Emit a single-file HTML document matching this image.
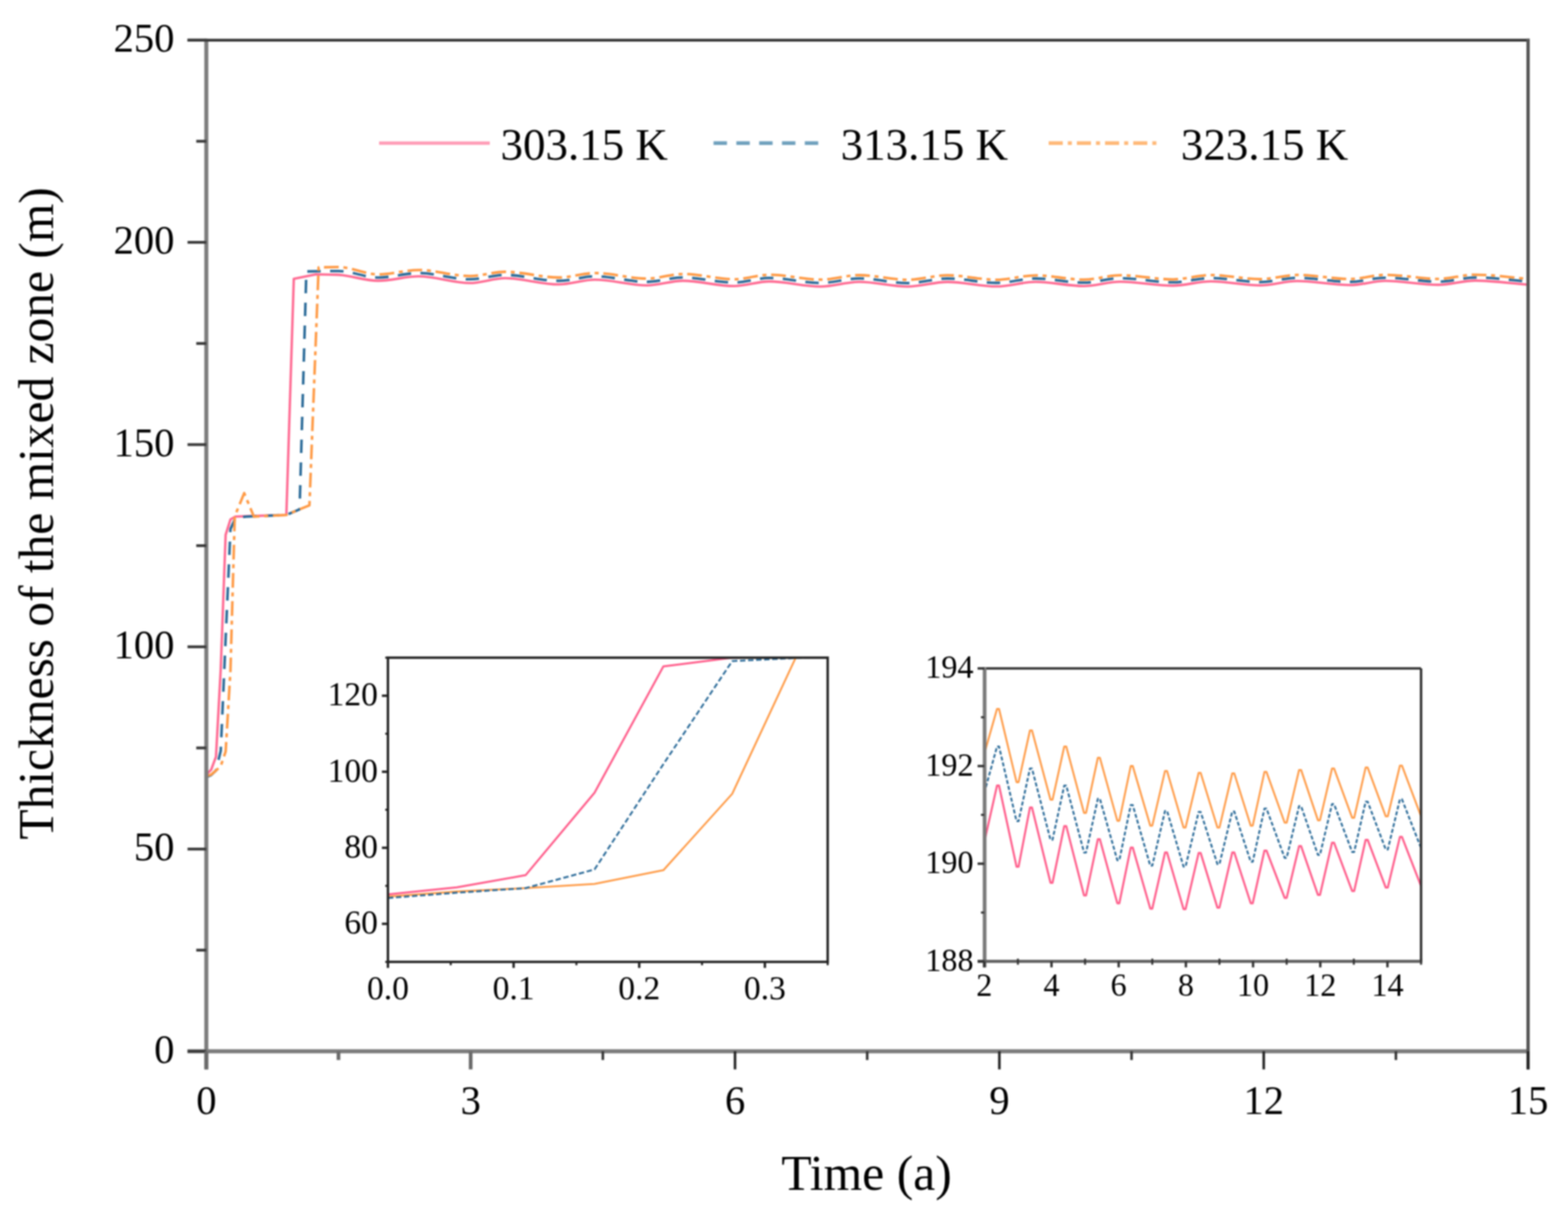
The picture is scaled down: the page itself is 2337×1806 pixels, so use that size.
<!DOCTYPE html>
<html><head><meta charset="utf-8"><title>Thickness of the mixed zone</title>
<style>
html,body{margin:0;padding:0;background:#fff;}
body{width:2337px;height:1806px;overflow:hidden;}
svg{display:block;filter:blur(1px);}
text{fill:#000;}
</style></head><body>

<svg width="2337" height="1806" viewBox="0 0 2337 1806">
<rect width="2337" height="1806" fill="#ffffff"/>
<defs>
<clipPath id="cm"><rect x="307.5" y="59.8" width="1970.0" height="1506.7"/></clipPath>
<clipPath id="ca"><rect x="578.2" y="980.0" width="655.3999999999999" height="453.29999999999995"/></clipPath>
<clipPath id="cb"><rect x="1467.0" y="996.0" width="651.0" height="436.5"/></clipPath>
</defs>
<g clip-path="url(#cm)" fill="none" stroke-linejoin="round" stroke-linecap="butt">
<path d="M307.5,1154.3 L314.7,1147.0 L321.9,1127.7 L329.0,997.0 L336.3,796.9 L343.5,774.0 L350.8,769.8 L386.3,768.6 L426.8,767.3 L437.9,415.4 L471.0,408.8 L471.0,408.8 C481.3,409.0 491.6,409.0 501.9,409.4 C522.4,410.0 543.0,418.4 563.6,418.4 C583.7,418.4 603.9,411.8 624.0,411.8 C649.4,411.8 674.8,421.8 700.2,421.8 C717.7,421.8 735.2,414.5 752.7,414.5 C779.4,414.5 806.1,423.8 832.8,423.8 C850.8,423.8 868.7,416.8 886.7,416.8 C912.5,416.8 938.3,425.3 964.2,425.3 C982.1,425.3 1000.1,418.4 1018.0,418.4 C1043.4,418.4 1068.8,426.3 1094.2,426.3 C1111.7,426.3 1129.2,419.4 1146.7,419.4 C1172.1,419.4 1197.5,427.0 1222.9,427.0 C1242.2,427.0 1261.4,420.0 1280.7,420.0 C1304.8,420.0 1328.8,427.0 1352.9,427.0 C1372.6,427.0 1392.3,420.1 1412.0,420.1 C1436.5,420.1 1461.0,426.8 1485.6,426.8 C1504.8,426.8 1524.1,420.0 1543.3,420.0 C1567.4,420.0 1591.5,426.3 1615.6,426.3 C1633.5,426.3 1651.5,419.8 1669.4,419.8 C1695.7,419.8 1722.0,425.6 1748.2,425.6 C1767.1,425.6 1785.9,419.2 1804.7,419.2 C1829.2,419.2 1853.7,425.3 1878.2,425.3 C1896.6,425.3 1915.0,418.8 1933.4,418.8 C1959.7,418.8 1985.9,424.8 2012.2,424.8 C2029.7,424.8 2047.2,418.5 2064.7,418.5 C2091.0,418.5 2117.3,424.4 2143.5,424.4 C2161.9,424.4 2180.3,418.1 2198.7,418.1 C2225.0,418.1 2251.2,422.2 2277.5,424.2" stroke="#ff6a92" stroke-width="3.6"/>
<path d="M307.5,1157.9 L314.7,1154.9 L321.9,1148.2 L329.0,1118.7 L336.3,951.8 L343.5,788.4 L350.8,772.2 L366.6,769.8 L426.8,767.3 L446.5,758.9 L456.6,404.5 L456.6,404.5 C472.5,404.3 488.5,403.9 504.5,403.9 C524.2,403.9 543.9,413.6 563.6,413.6 C583.7,413.6 603.9,406.9 624.0,406.9 C649.4,406.9 674.8,416.2 700.2,416.2 C717.7,416.2 735.2,409.7 752.7,409.7 C779.4,409.7 806.1,418.5 832.8,418.5 C850.8,418.5 868.7,411.8 886.7,411.8 C912.5,411.8 938.3,420.0 964.2,420.0 C982.1,420.0 1000.1,413.4 1018.0,413.4 C1043.4,413.4 1068.8,421.0 1094.2,421.0 C1111.7,421.0 1129.2,414.2 1146.7,414.2 C1172.1,414.2 1197.5,421.6 1222.9,421.6 C1242.2,421.6 1261.4,414.9 1280.7,414.9 C1304.8,414.9 1328.8,421.8 1352.9,421.8 C1372.6,421.8 1392.3,415.0 1412.0,415.0 C1436.5,415.0 1461.0,421.5 1485.6,421.5 C1504.8,421.5 1524.1,415.0 1543.3,415.0 C1567.4,415.0 1591.5,421.2 1615.6,421.2 C1633.5,421.2 1651.5,414.6 1669.4,414.6 C1695.7,414.6 1722.0,420.7 1748.2,420.7 C1767.1,420.7 1785.9,414.3 1804.7,414.3 C1829.2,414.3 1853.7,420.3 1878.2,420.3 C1896.6,420.3 1915.0,414.1 1933.4,414.1 C1959.7,414.1 1985.9,420.0 2012.2,420.0 C2029.7,420.0 2047.2,413.8 2064.7,413.8 C2091.0,413.8 2117.3,419.7 2143.5,419.7 C2161.9,419.7 2180.3,413.5 2198.7,413.5 C2225.0,413.5 2251.2,417.5 2277.5,419.5" stroke="#2a6a98" stroke-width="3.8" stroke-dasharray="20 14"/>
<path d="M307.5,1156.7 L314.7,1154.3 L321.9,1148.2 L329.0,1141.6 L336.3,1119.9 L343.5,998.8 L349.9,769.2 L364.0,734.8 L378.4,769.8 L426.8,767.3 L461.2,752.9 L474.9,398.5 L474.9,398.5 C484.8,398.3 494.6,397.9 504.5,397.9 C524.2,397.9 543.9,408.8 563.6,408.8 C583.7,408.8 603.9,402.3 624.0,402.3 C649.4,402.3 674.8,411.3 700.2,411.3 C717.7,411.3 735.2,405.0 752.7,405.0 C779.4,405.0 806.1,413.5 832.8,413.5 C850.8,413.5 868.7,406.9 886.7,406.9 C912.5,406.9 938.3,415.1 964.2,415.1 C982.1,415.1 1000.1,408.3 1018.0,408.3 C1043.4,408.3 1068.8,416.1 1094.2,416.1 C1111.7,416.1 1129.2,409.4 1146.7,409.4 C1172.1,409.4 1197.5,416.7 1222.9,416.7 C1242.2,416.7 1261.4,410.0 1280.7,410.0 C1304.8,410.0 1328.8,416.9 1352.9,416.9 C1372.6,416.9 1392.3,410.2 1412.0,410.2 C1436.5,410.2 1461.0,416.9 1485.6,416.9 C1504.8,416.9 1524.1,410.3 1543.3,410.3 C1567.4,410.3 1591.5,416.7 1615.6,416.7 C1633.5,416.7 1651.5,410.1 1669.4,410.1 C1695.7,410.1 1722.0,416.3 1748.2,416.3 C1767.1,416.3 1785.9,409.8 1804.7,409.8 C1829.2,409.8 1853.7,416.0 1878.2,416.0 C1896.6,416.0 1915.0,409.7 1933.4,409.7 C1959.7,409.7 1985.9,415.7 2012.2,415.7 C2029.7,415.7 2047.2,409.5 2064.7,409.5 C2091.0,409.5 2117.3,415.6 2143.5,415.6 C2161.9,415.6 2180.3,409.3 2198.7,409.3 C2225.0,409.3 2251.2,413.5 2277.5,415.6" stroke="#ff9a45" stroke-width="3.8" stroke-dasharray="22 7 6 7"/>
</g>
<line x1="307.5" y1="57.8" x2="307.5" y2="1593.5" stroke="#7c7c7c" stroke-width="6"/>
<line x1="279.5" y1="1566.5" x2="2279.5" y2="1566.5" stroke="#7c7c7c" stroke-width="6"/>
<line x1="279.5" y1="59.8" x2="2280.0" y2="59.8" stroke="#383838" stroke-width="4.2"/>
<line x1="2277.5" y1="57.8" x2="2277.5" y2="1593.5" stroke="#555555" stroke-width="5"/>
<line x1="279.5" y1="1566.5" x2="307.5" y2="1566.5" stroke="#3a3a3a" stroke-width="4.2"/>
<text x="260.0" y="1583.5" font-size="60.5" text-anchor="end" font-family="'Liberation Serif', 'Times New Roman', serif">0</text>
<line x1="279.5" y1="1265.2" x2="307.5" y2="1265.2" stroke="#3a3a3a" stroke-width="4.2"/>
<text x="260.0" y="1282.2" font-size="60.5" text-anchor="end" font-family="'Liberation Serif', 'Times New Roman', serif">50</text>
<line x1="279.5" y1="963.8" x2="307.5" y2="963.8" stroke="#3a3a3a" stroke-width="4.2"/>
<text x="260.0" y="980.8" font-size="60.5" text-anchor="end" font-family="'Liberation Serif', 'Times New Roman', serif">100</text>
<line x1="279.5" y1="662.5" x2="307.5" y2="662.5" stroke="#3a3a3a" stroke-width="4.2"/>
<text x="260.0" y="679.5" font-size="60.5" text-anchor="end" font-family="'Liberation Serif', 'Times New Roman', serif">150</text>
<line x1="279.5" y1="361.1" x2="307.5" y2="361.1" stroke="#3a3a3a" stroke-width="4.2"/>
<text x="260.0" y="378.1" font-size="60.5" text-anchor="end" font-family="'Liberation Serif', 'Times New Roman', serif">200</text>
<line x1="279.5" y1="59.8" x2="307.5" y2="59.8" stroke="#3a3a3a" stroke-width="4.2"/>
<text x="260.0" y="76.8" font-size="60.5" text-anchor="end" font-family="'Liberation Serif', 'Times New Roman', serif">250</text>
<line x1="292.5" y1="1415.8" x2="307.5" y2="1415.8" stroke="#3a3a3a" stroke-width="4.2"/>
<line x1="292.5" y1="1114.5" x2="307.5" y2="1114.5" stroke="#3a3a3a" stroke-width="4.2"/>
<line x1="292.5" y1="813.1" x2="307.5" y2="813.1" stroke="#3a3a3a" stroke-width="4.2"/>
<line x1="292.5" y1="511.8" x2="307.5" y2="511.8" stroke="#3a3a3a" stroke-width="4.2"/>
<line x1="292.5" y1="210.5" x2="307.5" y2="210.5" stroke="#3a3a3a" stroke-width="4.2"/>
<line x1="307.5" y1="1566.5" x2="307.5" y2="1593.5" stroke="#6a6a6a" stroke-width="5.5"/>
<text x="307.5" y="1660.0" font-size="60.5" text-anchor="middle" font-family="'Liberation Serif', 'Times New Roman', serif">0</text>
<line x1="701.5" y1="1566.5" x2="701.5" y2="1593.5" stroke="#6a6a6a" stroke-width="5.5"/>
<text x="701.5" y="1660.0" font-size="60.5" text-anchor="middle" font-family="'Liberation Serif', 'Times New Roman', serif">3</text>
<line x1="1095.5" y1="1566.5" x2="1095.5" y2="1593.5" stroke="#222222" stroke-width="3.8"/>
<text x="1095.5" y="1660.0" font-size="60.5" text-anchor="middle" font-family="'Liberation Serif', 'Times New Roman', serif">6</text>
<line x1="1489.5" y1="1566.5" x2="1489.5" y2="1593.5" stroke="#222222" stroke-width="3.8"/>
<text x="1489.5" y="1660.0" font-size="60.5" text-anchor="middle" font-family="'Liberation Serif', 'Times New Roman', serif">9</text>
<line x1="1883.5" y1="1566.5" x2="1883.5" y2="1593.5" stroke="#222222" stroke-width="3.8"/>
<text x="1883.5" y="1660.0" font-size="60.5" text-anchor="middle" font-family="'Liberation Serif', 'Times New Roman', serif">12</text>
<line x1="2277.5" y1="1566.5" x2="2277.5" y2="1593.5" stroke="#222222" stroke-width="3.8"/>
<text x="2277.5" y="1660.0" font-size="60.5" text-anchor="middle" font-family="'Liberation Serif', 'Times New Roman', serif">15</text>
<line x1="504.5" y1="1566.5" x2="504.5" y2="1579.5" stroke="#6a6a6a" stroke-width="5.5"/>
<line x1="898.5" y1="1566.5" x2="898.5" y2="1579.5" stroke="#333333" stroke-width="3.8"/>
<line x1="1292.5" y1="1566.5" x2="1292.5" y2="1579.5" stroke="#333333" stroke-width="3.8"/>
<line x1="1686.5" y1="1566.5" x2="1686.5" y2="1579.5" stroke="#333333" stroke-width="3.8"/>
<line x1="2080.5" y1="1566.5" x2="2080.5" y2="1579.5" stroke="#333333" stroke-width="3.8"/>
<text x="1291.5" y="1772.5" font-size="74" text-anchor="middle" font-family="'Liberation Serif', 'Times New Roman', serif">Time (a)</text>
<text transform="translate(79,765) rotate(-90)" x="0" y="0" font-size="73.7" text-anchor="middle" font-family="'Liberation Serif', 'Times New Roman', serif">Thickness of the mixed zone (m)</text>
<line x1="565" y1="213.3" x2="730" y2="213.3" stroke="#ff9cb6" stroke-width="5"/>
<line x1="1063.5" y1="213.3" x2="1220" y2="213.3" stroke="#6fa0bd" stroke-width="5.5" stroke-dasharray="20 14"/>
<line x1="1563" y1="213.3" x2="1726" y2="213.3" stroke="#ffb877" stroke-width="5.5" stroke-dasharray="21 7.5 6 7.5"/>
<text x="746" y="237.5" font-size="67" font-family="'Liberation Serif', 'Times New Roman', serif">303.15 K</text>
<text x="1253" y="237.5" font-size="67" font-family="'Liberation Serif', 'Times New Roman', serif">313.15 K</text>
<text x="1760" y="237.5" font-size="67" font-family="'Liberation Serif', 'Times New Roman', serif">323.15 K</text>
<rect x="578.2" y="980.0" width="655.3999999999999" height="453.29999999999995" fill="#ffffff"/>
<g clip-path="url(#ca)" fill="none" stroke-linejoin="round">
<path d="M578.2,1335.8 L680.8,1328.5 L783.4,1323.4 L886.1,1317.1 L988.7,1296.7 L1091.3,1182.9 L1193.9,963.0" stroke="#ff9a45" stroke-width="2.8"/>
<path d="M578.2,1338.1 L680.8,1330.2 L783.4,1323.4 L886.1,1295.6 L988.7,1138.7 L1091.3,985.1 L1196.1,980.0 L1252.3,978.9" stroke="#2a6a98" stroke-width="2.8" stroke-dasharray="8 4"/>
<path d="M578.2,1332.7 L680.8,1322.2 L783.4,1304.1 L886.1,1181.2 L988.7,993.0 L1091.3,980.0 L1196.1,977.2" stroke="#ff5c8a" stroke-width="3"/>
</g>
<rect x="578.2" y="980.0" width="655.3999999999999" height="453.29999999999995" fill="none" stroke="#222" stroke-width="3.6"/>
<line x1="569.2" y1="1376.6" x2="578.2" y2="1376.6" stroke="#222" stroke-width="3.6"/>
<text x="563.2" y="1391.1" font-size="50" text-anchor="end" font-family="'Liberation Serif', 'Times New Roman', serif">60</text>
<line x1="569.2" y1="1263.3" x2="578.2" y2="1263.3" stroke="#222" stroke-width="3.6"/>
<text x="563.2" y="1277.8" font-size="50" text-anchor="end" font-family="'Liberation Serif', 'Times New Roman', serif">80</text>
<line x1="569.2" y1="1150.0" x2="578.2" y2="1150.0" stroke="#222" stroke-width="3.6"/>
<text x="563.2" y="1164.5" font-size="50" text-anchor="end" font-family="'Liberation Serif', 'Times New Roman', serif">100</text>
<line x1="569.2" y1="1036.7" x2="578.2" y2="1036.7" stroke="#222" stroke-width="3.6"/>
<text x="563.2" y="1051.2" font-size="50" text-anchor="end" font-family="'Liberation Serif', 'Times New Roman', serif">120</text>
<line x1="574.2" y1="1433.3" x2="578.2" y2="1433.3" stroke="#222" stroke-width="3"/>
<line x1="574.2" y1="1320.0" x2="578.2" y2="1320.0" stroke="#222" stroke-width="3"/>
<line x1="574.2" y1="1206.6" x2="578.2" y2="1206.6" stroke="#222" stroke-width="3"/>
<line x1="574.2" y1="1093.3" x2="578.2" y2="1093.3" stroke="#222" stroke-width="3"/>
<line x1="574.2" y1="980.0" x2="578.2" y2="980.0" stroke="#222" stroke-width="3"/>
<line x1="578.2" y1="1433.3" x2="578.2" y2="1442.3" stroke="#222" stroke-width="3.6"/>
<text x="578.2" y="1489.3" font-size="50" text-anchor="middle" font-family="'Liberation Serif', 'Times New Roman', serif">0.0</text>
<line x1="765.5" y1="1433.3" x2="765.5" y2="1442.3" stroke="#222" stroke-width="3.6"/>
<text x="765.5" y="1489.3" font-size="50" text-anchor="middle" font-family="'Liberation Serif', 'Times New Roman', serif">0.1</text>
<line x1="952.7" y1="1433.3" x2="952.7" y2="1442.3" stroke="#222" stroke-width="3.6"/>
<text x="952.7" y="1489.3" font-size="50" text-anchor="middle" font-family="'Liberation Serif', 'Times New Roman', serif">0.2</text>
<line x1="1140.0" y1="1433.3" x2="1140.0" y2="1442.3" stroke="#222" stroke-width="3.6"/>
<text x="1140.0" y="1489.3" font-size="50" text-anchor="middle" font-family="'Liberation Serif', 'Times New Roman', serif">0.3</text>
<line x1="671.8" y1="1433.3" x2="671.8" y2="1438.3" stroke="#222" stroke-width="3"/>
<line x1="859.1" y1="1433.3" x2="859.1" y2="1438.3" stroke="#222" stroke-width="3"/>
<line x1="1046.3" y1="1433.3" x2="1046.3" y2="1438.3" stroke="#222" stroke-width="3"/>
<line x1="1233.6" y1="1433.3" x2="1233.6" y2="1438.3" stroke="#222" stroke-width="3"/>
<rect x="1467.0" y="996.0" width="651.0" height="436.5" fill="#ffffff"/>
<g clip-path="url(#cb)" fill="none" stroke-linejoin="round">
<path d="M1467.0,1123.3 L1486.0,1056.4 L1489.0,1056.4 L1515.1,1165.5 L1518.1,1165.5 L1535.1,1088.4 L1538.1,1088.4 L1565.7,1191.7 L1568.7,1191.7 L1586.2,1112.4 L1589.2,1112.4 L1615.7,1211.3 L1618.7,1211.3 L1636.3,1129.1 L1639.3,1129.1 L1665.3,1223.0 L1668.3,1223.0 L1685.3,1141.5 L1688.3,1141.5 L1714.4,1230.3 L1717.4,1230.3 L1736.4,1148.8 L1739.4,1148.8 L1764.0,1233.2 L1767.0,1233.2 L1786.5,1151.7 L1789.5,1151.7 L1814.5,1233.2 L1817.5,1233.2 L1836.6,1152.4 L1839.6,1152.4 L1864.1,1230.3 L1867.1,1230.3 L1884.6,1150.2 L1887.6,1150.2 L1914.7,1225.9 L1917.7,1225.9 L1936.2,1147.3 L1939.2,1147.3 L1964.3,1222.3 L1967.3,1222.3 L1985.3,1145.1 L1988.3,1145.1 L2015.3,1218.6 L2018.3,1218.6 L2035.4,1143.7 L2038.4,1143.7 L2065.4,1216.4 L2068.4,1216.4 L2086.5,1140.8 L2089.5,1140.8 L2118.0,1216.4" stroke="#ff9a45" stroke-width="2.8"/>
<path d="M1467.0,1181.5 L1486.0,1112.4 L1489.0,1112.4 L1515.1,1223.7 L1518.1,1223.7 L1535.1,1145.1 L1538.1,1145.1 L1565.7,1251.4 L1568.7,1251.4 L1586.2,1170.6 L1589.2,1170.6 L1615.7,1270.3 L1618.7,1270.3 L1636.3,1190.2 L1639.3,1190.2 L1665.3,1281.9 L1668.3,1281.9 L1685.3,1199.7 L1688.3,1199.7 L1714.4,1289.9 L1717.4,1289.9 L1736.4,1208.4 L1739.4,1208.4 L1764.0,1291.4 L1767.0,1291.4 L1786.5,1209.9 L1789.5,1209.9 L1814.5,1287.7 L1817.5,1287.7 L1836.6,1209.2 L1839.6,1209.2 L1864.1,1284.1 L1867.1,1284.1 L1884.6,1204.8 L1887.6,1204.8 L1914.7,1278.3 L1917.7,1278.3 L1936.2,1201.2 L1939.2,1201.2 L1964.3,1273.9 L1967.3,1273.9 L1985.3,1198.2 L1988.3,1198.2 L2015.3,1269.5 L2018.3,1269.5 L2035.4,1194.6 L2038.4,1194.6 L2065.4,1265.9 L2068.4,1265.9 L2086.5,1191.0 L2089.5,1191.0 L2118.0,1263.7" stroke="#2a6a98" stroke-width="2.8" stroke-dasharray="6 3"/>
<path d="M1467.0,1255.0 L1486.0,1170.6 L1489.0,1170.6 L1515.1,1291.4 L1518.1,1291.4 L1535.1,1203.3 L1538.1,1203.3 L1565.7,1315.4 L1568.7,1315.4 L1586.2,1231.0 L1589.2,1231.0 L1615.7,1334.3 L1618.7,1334.3 L1636.3,1250.6 L1639.3,1250.6 L1665.3,1345.9 L1668.3,1345.9 L1685.3,1263.0 L1688.3,1263.0 L1714.4,1353.9 L1717.4,1353.9 L1736.4,1270.3 L1739.4,1270.3 L1764.0,1354.7 L1767.0,1354.7 L1786.5,1271.0 L1789.5,1271.0 L1814.5,1352.5 L1817.5,1352.5 L1836.6,1270.3 L1839.6,1270.3 L1864.1,1345.9 L1867.1,1345.9 L1884.6,1267.4 L1887.6,1267.4 L1914.7,1337.9 L1917.7,1337.9 L1936.2,1260.8 L1939.2,1260.8 L1964.3,1333.6 L1967.3,1333.6 L1985.3,1255.7 L1988.3,1255.7 L2015.3,1327.7 L2018.3,1327.7 L2035.4,1251.4 L2038.4,1251.4 L2065.4,1322.6 L2068.4,1322.6 L2086.5,1247.0 L2089.5,1247.0 L2118.0,1320.5" stroke="#ff5c8a" stroke-width="3"/>
</g>
<line x1="1467.0" y1="996.0" x2="2118.0" y2="996.0" stroke="#2e2e2e" stroke-width="3.6"/>
<line x1="2118.0" y1="996.0" x2="2118.0" y2="1432.5" stroke="#2e2e2e" stroke-width="3.6"/>
<line x1="1467.5" y1="994.0" x2="1467.5" y2="1441.5" stroke="#7a7a7a" stroke-width="5.5"/>
<line x1="1457.0" y1="1432.5" x2="2119.8" y2="1432.5" stroke="#5e5e5e" stroke-width="4.4"/>
<line x1="1457.0" y1="1432.5" x2="1467.0" y2="1432.5" stroke="#333" stroke-width="3.6"/>
<text x="1451.0" y="1446.5" font-size="48" text-anchor="end" font-family="'Liberation Serif', 'Times New Roman', serif">188</text>
<line x1="1457.0" y1="1287.0" x2="1467.0" y2="1287.0" stroke="#333" stroke-width="3.6"/>
<text x="1451.0" y="1301.0" font-size="48" text-anchor="end" font-family="'Liberation Serif', 'Times New Roman', serif">190</text>
<line x1="1457.0" y1="1141.5" x2="1467.0" y2="1141.5" stroke="#333" stroke-width="3.6"/>
<text x="1451.0" y="1155.5" font-size="48" text-anchor="end" font-family="'Liberation Serif', 'Times New Roman', serif">192</text>
<line x1="1457.0" y1="996.0" x2="1467.0" y2="996.0" stroke="#333" stroke-width="3.6"/>
<text x="1451.0" y="1010.0" font-size="48" text-anchor="end" font-family="'Liberation Serif', 'Times New Roman', serif">194</text>
<line x1="1462.0" y1="1359.8" x2="1467.0" y2="1359.8" stroke="#333" stroke-width="3"/>
<line x1="1462.0" y1="1214.2" x2="1467.0" y2="1214.2" stroke="#333" stroke-width="3"/>
<line x1="1462.0" y1="1068.8" x2="1467.0" y2="1068.8" stroke="#333" stroke-width="3"/>
<line x1="1467.0" y1="1432.5" x2="1467.0" y2="1441.5" stroke="#333" stroke-width="3.6"/>
<text x="1467.0" y="1483.5" font-size="48" text-anchor="middle" font-family="'Liberation Serif', 'Times New Roman', serif">2</text>
<line x1="1567.2" y1="1432.5" x2="1567.2" y2="1441.5" stroke="#333" stroke-width="3.6"/>
<text x="1567.2" y="1483.5" font-size="48" text-anchor="middle" font-family="'Liberation Serif', 'Times New Roman', serif">4</text>
<line x1="1667.3" y1="1432.5" x2="1667.3" y2="1441.5" stroke="#333" stroke-width="3.6"/>
<text x="1667.3" y="1483.5" font-size="48" text-anchor="middle" font-family="'Liberation Serif', 'Times New Roman', serif">6</text>
<line x1="1767.5" y1="1432.5" x2="1767.5" y2="1441.5" stroke="#333" stroke-width="3.6"/>
<text x="1767.5" y="1483.5" font-size="48" text-anchor="middle" font-family="'Liberation Serif', 'Times New Roman', serif">8</text>
<line x1="1867.6" y1="1432.5" x2="1867.6" y2="1441.5" stroke="#333" stroke-width="3.6"/>
<text x="1867.6" y="1483.5" font-size="48" text-anchor="middle" font-family="'Liberation Serif', 'Times New Roman', serif">10</text>
<line x1="1967.8" y1="1432.5" x2="1967.8" y2="1441.5" stroke="#333" stroke-width="3.6"/>
<text x="1967.8" y="1483.5" font-size="48" text-anchor="middle" font-family="'Liberation Serif', 'Times New Roman', serif">12</text>
<line x1="2067.9" y1="1432.5" x2="2067.9" y2="1441.5" stroke="#333" stroke-width="3.6"/>
<text x="2067.9" y="1483.5" font-size="48" text-anchor="middle" font-family="'Liberation Serif', 'Times New Roman', serif">14</text>
<line x1="1517.1" y1="1428.5" x2="1517.1" y2="1437.5" stroke="#333" stroke-width="3"/>
<line x1="1617.2" y1="1428.5" x2="1617.2" y2="1437.5" stroke="#333" stroke-width="3"/>
<line x1="1717.4" y1="1428.5" x2="1717.4" y2="1437.5" stroke="#333" stroke-width="3"/>
<line x1="1817.5" y1="1428.5" x2="1817.5" y2="1437.5" stroke="#333" stroke-width="3"/>
<line x1="1917.7" y1="1428.5" x2="1917.7" y2="1437.5" stroke="#333" stroke-width="3"/>
<line x1="2017.8" y1="1428.5" x2="2017.8" y2="1437.5" stroke="#333" stroke-width="3"/>
<line x1="2118.0" y1="1428.5" x2="2118.0" y2="1437.5" stroke="#333" stroke-width="3"/>
</svg>
</body></html>
